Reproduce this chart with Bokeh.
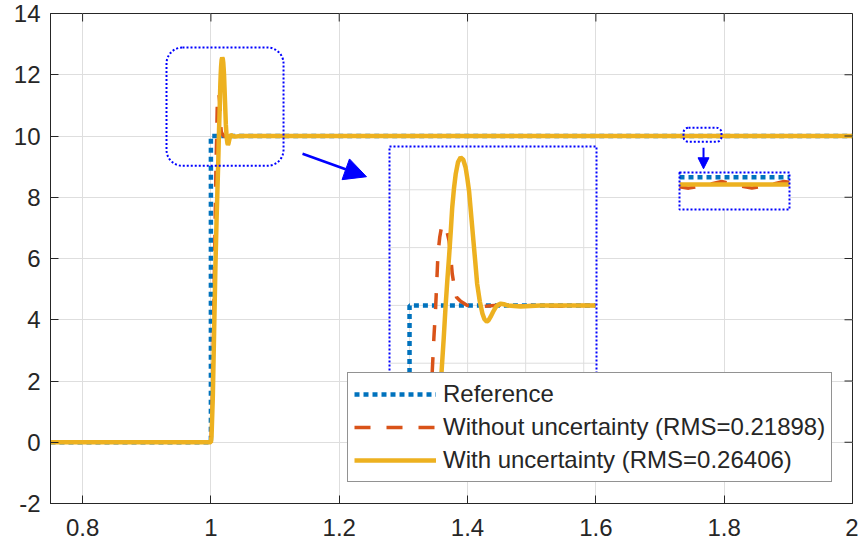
import math
from bokeh.plotting import figure
from bokeh.models import (Range1d, FixedTicker, Legend, LegendItem,
                          BoxAnnotation, Arrow, NormalHead)
from bokeh.embed import file_html
from bokeh.resources import INLINE

# ---------------- data ----------------
ref_t = [0.75, 1.0, 1.0, 1.0, 1.064, 1.735, 1.795, 2.0]
ref_y = [0.0, 0.0, 8.83, 10.0, 10.0, 10.0, 10.0, 10.0]

red_t = [0.75, 1.0, 1.002, 1.004, 1.006, 1.0078, 1.0084, 1.009, 1.0098, 1.0104,
         1.011, 1.0116, 1.0121, 1.0128, 1.0136, 1.0142, 1.0147, 1.0155, 1.0162,
         1.0176, 1.0199, 1.0233, 1.027, 1.032, 1.038, 1.045, 1.052, 1.058,
         1.064, 1.2, 1.5, 1.735, 1.740, 1.749, 1.758, 1.766, 1.7745, 1.783,
         1.792, 1.795, 2.0]
red_y = [0.0, 0.0, 1.0, 3.4, 6.3, 8.83, 9.45, 9.97, 10.89, 11.18,
         11.35, 11.4, 11.4, 11.3, 11.12, 10.85, 10.55, 10.3, 10.14,
         10.07, 10.0, 9.98, 9.99, 10.01, 9.99, 10.0, 9.99, 10.0,
         10.0, 9.999, 9.999, 9.9987, 9.9985, 9.9989, 9.9994, 9.9989, 9.9985, 9.9989,
         9.9994, 9.9993, 9.999]

unc_t = [0.75, 1.0, 1.001, 1.003, 1.005, 1.007, 1.009, 1.011, 1.0118, 1.0124,
         1.013, 1.0136, 1.0142, 1.0147, 1.0153, 1.0159, 1.0167, 1.0176, 1.0185,
         1.0193, 1.0199, 1.0205, 1.0212, 1.022, 1.0227, 1.0233, 1.0242, 1.0251,
         1.0258, 1.0266, 1.0272, 1.0279, 1.0288, 1.0297, 1.0305, 1.0314, 1.0325,
         1.0337, 1.036, 1.0383, 1.045, 1.064, 1.2, 1.5, 1.735, 1.795, 2.0]
unc_y = [0.0, 0.0, 0.2, 1.5, 3.6, 5.7, 7.4, 8.83, 9.45, 9.97,
         10.42, 10.83, 11.28, 11.69, 12.02, 12.27, 12.48, 12.56, 12.52,
         12.39, 12.2, 11.98, 11.58, 11.12, 10.72, 10.37, 10.07, 9.86,
         9.76, 9.72, 9.74, 9.80, 9.89, 9.97, 10.01, 10.03, 10.02,
         10.0, 9.99, 9.98, 10.0, 10.0, 9.9995, 9.999, 9.999, 9.999, 9.999]

series_labels = ["Reference",
                 "Without uncertainty (RMS=0.21898)",
                 "With uncertainty (RMS=0.26406)"]

x_ticks = [0.8, 1.0, 1.2, 1.4, 1.6, 1.8, 2.0]
x_tick_labels = ["0.8", "1", "1.2", "1.4", "1.6", "1.8", "2"]
y_ticks = [-2, 0, 2, 4, 6, 8, 10, 12, 14]
y_tick_labels = ["-2", "0", "2", "4", "6", "8", "10", "12", "14"]

# zoomed views (data windows)
in1_x = (0.9931, 1.0644)
in1_y = (8.822, 12.749)
in1_xgrid = [1.00, 1.02, 1.04, 1.06]
in1_ygrid = [9, 10, 11, 12]
in2_x = (1.735, 1.795)
in2_y = (9.99558, 10.00064)

# source windows of the magnifiers (main data coordinates)
src1 = dict(left=0.9308, right=1.1132, bottom=9.027, top=12.888)
src2 = dict(left=1.7366, right=1.7958, bottom=9.812, top=10.270)

# ---------------- styles / layout ----------------
BLUE = "#0072BD"
RED = "#D95319"
GOLD = "#EDB120"
MAG = "#0000FF"
AX = "#262626"
GRID = "#dedede"
FONT = "Liberation Sans"

# frame position in page pixels
FL, FR, FT, FB = 50, 852, 13, 503
# inset boxes in page pixels (left, right, top, bottom)
BOX1 = (389, 596, 146, 373)
BOX2 = (679, 789, 172, 209)

W, H = 858, 548
p = figure(width=W, height=H, output_backend="svg", toolbar_location=None,
           x_range=Range1d(0.75, 2.0), y_range=Range1d(-2, 14),
           min_border_left=FL, min_border_right=W - FR,
           min_border_top=FT, min_border_bottom=H - FB,
           background_fill_color="white", border_fill_color="white")
p.outline_line_color = AX
p.outline_line_width = 1


def style_axis(ax, ticks, labels, standoff):
    ax.ticker = FixedTicker(ticks=ticks)
    ax.major_label_overrides = {t: l for t, l in zip(ticks, labels)}
    ax.axis_line_color = AX
    ax.major_tick_line_color = AX
    ax.major_tick_in = 8
    ax.major_tick_out = 0
    ax.minor_tick_line_color = None
    ax.major_label_text_font = FONT
    ax.major_label_text_color = AX
    ax.major_label_text_font_size = "24px"
    ax.major_label_standoff = standoff


style_axis(p.xaxis[0], x_ticks, x_tick_labels, 15)
style_axis(p.yaxis[0], y_ticks, y_tick_labels, 10)

p.xgrid.grid_line_color = GRID
p.ygrid.grid_line_color = GRID
p.xgrid.ticker = FixedTicker(ticks=x_ticks)
p.ygrid.ticker = FixedTicker(ticks=y_ticks)

line_styles = [
    dict(line_color=BLUE, line_width=4.5, line_dash="5 4"),
    dict(line_color=RED, line_width=3.5, line_dash="16 16"),
    dict(line_color=GOLD, line_width=4.5),
]
series = [(ref_t, ref_y), (red_t, red_y), (unc_t, unc_y)]

main_renderers = []
for (t, y), st in zip(series, line_styles):
    main_renderers.append(p.line(t, y, **st))

# tick marks on the top and right edges of the box
p.ray(x=x_ticks, y=[p.y_range.end] * len(x_ticks), length=8,
      length_units="screen", angle=-math.pi / 2, line_color=AX, line_width=1)
p.ray(x=[p.x_range.end] * len(y_ticks), y=y_ticks, length=8,
      length_units="screen", angle=math.pi, line_color=AX, line_width=1)


def inset_range(d0, d1, p0, p1, f0, f1):
    s = (d1 - d0) / (p1 - p0)
    return Range1d(d0 + (f0 - p0) * s, d0 + (f1 - p0) * s)


def add_inset(name, xr, yr, box, xgrid=None, ygrid=None):
    l, r, t, b = box
    p.extra_x_ranges[name] = inset_range(xr[0], xr[1], l, r, FL, FR)
    p.extra_y_ranges[name] = inset_range(yr[1], yr[0], t, b, FB, FT)
    kw = dict(x_range_name=name, y_range_name=name)
    p.quad(left=[xr[0]], right=[xr[1]], bottom=[yr[0]], top=[yr[1]],
           fill_color="white", line_color=None, **kw)
    if xgrid:
        p.segment(x0=xgrid, x1=xgrid, y0=[yr[0]] * len(xgrid),
                  y1=[yr[1]] * len(xgrid), line_color=GRID, line_width=1, **kw)
    if ygrid:
        p.segment(x0=[xr[0]] * len(ygrid), x1=[xr[1]] * len(ygrid),
                  y0=ygrid, y1=ygrid, line_color=GRID, line_width=1, **kw)
    eps = 1e-9
    for (ts, ys), st in zip(series, line_styles):
        pts = [(a, v) for a, v in zip(ts, ys)
               if xr[0] - eps <= a <= xr[1] + eps and yr[0] - eps <= v <= yr[1] + eps]
        p.line([a for a, _ in pts], [v for _, v in pts], **st, **kw)
    p.quad(left=[xr[0]], right=[xr[1]], bottom=[yr[0]], top=[yr[1]],
           fill_color=None, line_color=MAG, line_width=2, line_dash="2 2", **kw)


add_inset("in1", in1_x, in1_y, BOX1, in1_xgrid, in1_ygrid)
add_inset("in2", in2_x, in2_y, BOX2)

# magnifier source windows
for src, rad in ((src1, 16), (src2, 5)):
    p.add_layout(BoxAnnotation(**src, fill_alpha=0, line_color=MAG, line_alpha=1,
                               line_width=2, line_dash="2 2", border_radius=rad))

# arrows
p.add_layout(Arrow(end=NormalHead(size=22, fill_color=MAG, line_color=MAG),
                   x_start=1.1428, y_start=9.42, x_end=1.2425, y_end=8.67,
                   line_color=MAG, line_width=2.5))
p.add_layout(Arrow(end=NormalHead(size=11, fill_color=MAG, line_color=MAG),
                   x_start=1.7678, y_start=9.62, x_end=1.7678, y_end=8.93,
                   line_color=MAG, line_width=2))

legend = Legend(items=[LegendItem(label=lab, renderers=[r])
                       for lab, r in zip(series_labels, main_renderers)],
                location=(297, 21), padding=6, spacing=3,
                glyph_width=82, glyph_height=30, label_height=30,
                label_standoff=7, label_text_font=FONT,
                label_text_font_size="24px", label_text_color=AX,
                border_line_color=AX, border_line_width=1,
                background_fill_color="white", background_fill_alpha=1,
                margin=0)
p.add_layout(legend)

open("out.html", "w").write(file_html(p, INLINE))
